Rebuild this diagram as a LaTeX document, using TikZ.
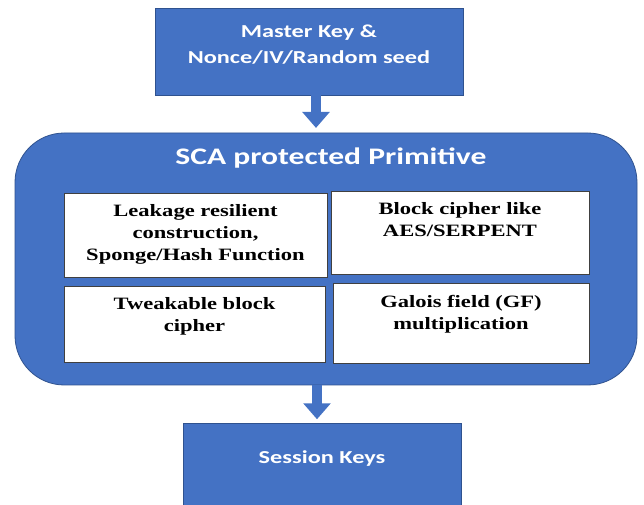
\documentclass[tikz,border=0pt]{standalone}
\usepackage{fontspec}
\setmainfont{Liberation Serif}
\newfontfamily\calibri[FakeStretch=1.33]{Carlito}
\newfontfamily\timesbox[FakeStretch=1.3]{Liberation Serif}
\usetikzlibrary{positioning,arrows.meta}

\definecolor{officeblue}{HTML}{4472C4}
\definecolor{officeedge}{HTML}{2F528F}
\definecolor{celledge}{HTML}{404040}

\begin{document}
\begin{tikzpicture}[x=0.75pt, y=-0.75pt,
    blueBox/.style={rectangle, draw=officeedge, line width=0.6pt, fill=officeblue, inner sep=0pt},
    blueText/.style={text=white, font=\calibri\bfseries\fontsize{13.7}{19.5}\selectfont, align=center, inner sep=0pt},
    cell/.style={rectangle, draw=celledge, line width=0.6pt, fill=white, inner sep=0pt},
    cellText/.style={font=\timesbox\bfseries\fontsize{13}{16.5}\selectfont, align=center, inner sep=0pt, anchor=north},
    flow/.style={draw=officeblue, line width=7.5pt, -{Triangle[width=20pt, length=12pt]}}]

    \fill[white] (0,0) rectangle (644,505);
    \useasboundingbox (0,0) rectangle (644,505);

    % Input
    \node[blueBox, minimum width=231pt, minimum height=65.25pt] (master) at (309, 51.5) {};
    \node[blueText] (masterText) at (309, 45) {Master Key \&\\Nonce/IV/Random seed};

    % Protected primitive with its four building blocks
    \node[blueBox, rounded corners=37pt, minimum width=466.5pt, minimum height=189pt] (prim) at (326, 259) {};
    \node[blueText, font=\calibri\bfseries\fontsize{17.8}{20}\selectfont] (primTitle) at (331, 158) {SCA protected Primitive};

    \node[cell, minimum width=197.25pt, minimum height=63pt] (leak) at (195.5, 235) {};
    \node[cell, minimum width=193.5pt, minimum height=62.25pt] (block) at (460, 232.5) {};
    \node[cell, minimum width=195.75pt, minimum height=57pt] (tweak) at (194.5, 324) {};
    \node[cell, minimum width=192pt, minimum height=60pt] (galois) at (461, 323) {};

    \node[cellText, below=9pt of leak.north] (leakText) {Leakage resilient\\construction,\\Sponge/Hash Function};
    \node[cellText, below=9pt of block.north] (blockText) {Block cipher like\\AES/SERPENT};
    \node[cellText, below=9pt of tweak.north] (tweakText) {Tweakable block\\cipher};
    \node[cellText, below=9pt of galois.north] (galoisText) {Galois field (GF)\\multiplication};

    % Output
    \node[blueBox, minimum width=208.5pt, minimum height=61.5pt] (session) at (322, 464) {};
    \node[blueText] (sessionText) at (322, 459) {Session Keys};

    % Flow arrows
    \coordinate (inArrow) at ([xshift=5.25pt]master.south);
    \coordinate (outArrow) at ([xshift=-3.75pt]session.north |- prim.south);
    \draw[flow, shorten >=3.5pt] (inArrow) -- (inArrow |- prim.north);
    \draw[flow, shorten >=2.5pt] (outArrow) -- (outArrow |- session.north);

\end{tikzpicture}
\end{document}
